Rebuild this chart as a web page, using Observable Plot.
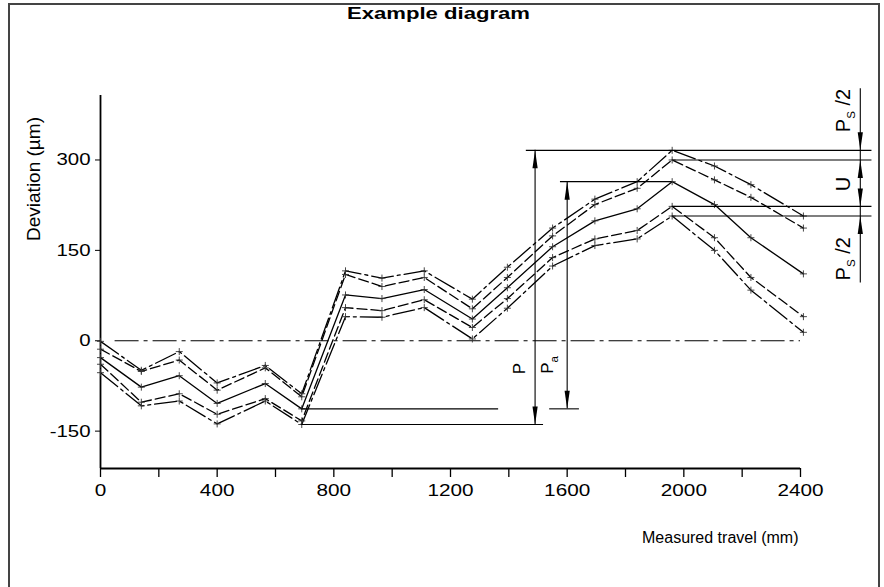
<!DOCTYPE html>
<html><head><meta charset="utf-8">
<script src="https://cdn.jsdelivr.net/npm/d3@7"></script>
<script src="https://cdn.jsdelivr.net/npm/@observablehq/plot@0.6"></script>
<style>
body{margin:0;background:#fff;}
#wrap{position:relative;width:884px;height:587px;overflow:hidden;background:#fff;}
#frame{position:absolute;left:8px;top:3px;width:868px;height:700px;border:2px solid #444;pointer-events:none;}
</style></head><body><div id="wrap"><div id="chart"></div><div id="frame"></div></div>
<script>
// ---- data ----
const travel = [0,140,270,400,565,690,840,965,1110,1275,1395,1550,1695,1840,1960,2105,2230,2410];
const upperDashDot = [-1,-49,-18,-70,-41,-88,116,104,116,69,122,187,235,264,316,290,259,207];
const upperDashed  = [-14,-51,-32,-82,-45,-93,110,90,105,53,105,174,226,253,300,267,238,187];
const meanLine     = [-28,-77,-58,-104,-71,-113,76,70,85,36,88,156,199,219,264,226,171,111];
const lowerDashed  = [-39,-102,-88,-122,-96,-133,55,50,68,22,70,138,169,183,223,171,105,40];
const lowerDashDot = [-53,-108,-100,-138,-100,-139,40,39,55,3,54,124,158,169,207,150,84,14];

const yTicks = [-150, 0, 150, 300];
const xTicks = d3.range(0, 2401, 200);
const xTickLabels = [0, 400, 800, 1200, 1600, 2000, 2400];
const titleText = "Example diagram";
const xLabel = "Measured travel (mm)";
const yLabel = "Deviation (µm)";

// annotation positions (mm)
const zeroSpan = [50, 2400];
const pArrowX = 1490, paArrowX = 1600, dimX = 2605, refEnd = 2645;
const pTopStart = 1460, paTopStart = 1577, paBotEnd = 1365, paBotStub = [1540, 1642], pBotEnd = 1519;
const dimSpan = [96, 418];
const labelP = [1437, -46], labelPa = [1534, -40];
const rightLabelX = 2547;
const rightLabels = [{t: "P_S /2", y: 382}, {t: "U", y: 260}, {t: "P_S /2", y: 136}];

// ---- derived ----
const rows = a => travel.map((x, i) => ({x, y: a[i]}));
const P_top = d3.max(upperDashDot), P_bot = d3.min(lowerDashDot);
const Pa_top = d3.max(meanLine), Pa_bot = d3.min(meanLine);
const U_top = d3.max(upperDashed), U_bot = d3.max(lowerDashed), S_bot = d3.max(lowerDashDot);
const peakX = travel[meanLine.indexOf(Pa_top)];
const minX = travel[meanLine.indexOf(Pa_bot)];

const series = [
  {a: upperDashDot, dash: "22,4,3,4"},
  {a: upperDashed, dash: "10,4"},
  {a: meanLine, dash: null},
  {a: lowerDashed, dash: "10,4"},
  {a: lowerDashDot, dash: "22,4,3,4"}
];

const arrowHead = {draw(ctx) { ctx.moveTo(0, 0); ctx.lineTo(2.6, 18); ctx.lineTo(-2.6, 18); ctx.closePath(); }};
const upArrows = [{x: pArrowX, y: P_top}, {x: paArrowX, y: Pa_top}, {x: dimX, y: U_top}, {x: dimX, y: S_bot}];
const downArrows = [{x: pArrowX, y: P_bot}, {x: paArrowX, y: Pa_bot}, {x: dimX, y: P_top}, {x: dimX, y: U_bot}];

const hRules = [
  {y: P_top, x1: pTopStart, x2: refEnd},
  {y: U_top, x1: peakX, x2: refEnd},
  {y: Pa_top, x1: paTopStart, x2: peakX},
  {y: U_bot, x1: peakX, x2: refEnd},
  {y: S_bot, x1: peakX, x2: refEnd},
  {y: Pa_bot, x1: minX, x2: paBotEnd},
  {y: Pa_bot, x1: paBotStub[0], x2: paBotStub[1]},
  {y: P_bot, x1: minX, x2: pBotEnd}
];
const vRules = [
  {x: pArrowX, y1: P_bot, y2: P_top},
  {x: paArrowX, y1: Pa_bot, y2: Pa_top},
  {x: dimX, y1: dimSpan[0], y2: dimSpan[1]}
];

const font = "'Liberation Sans', Arial, Helvetica, sans-serif";

const chart = Plot.plot({
  width: 884, height: 587,
  marginTop: 95, marginBottom: 119, marginLeft: 100, marginRight: 84,
  x: {domain: [0, 2400]},
  y: {domain: [-212, 407]},
  style: {fontFamily: font, fontSize: "16px", color: "black", background: "white", overflow: "visible"},
  marks: [
    Plot.axisY({ticks: yTicks, tickSize: 5, tickPadding: 5, fontSize: 17, label: null, tickFormat: d => String(d)}),
    Plot.axisX({ticks: xTicks, tickSize: 9, tickPadding: 6, fontSize: 17, strokeWidth: 1.3, label: null,
      tickFormat: d => xTickLabels.includes(d) ? String(d) : ""}),
    Plot.ruleX([0], {strokeWidth: 1.8}),
    Plot.ruleY([-212], {strokeWidth: 1.8}),
    Plot.ruleY([0], {x1: zeroSpan[0], x2: zeroSpan[1], strokeWidth: 1.2, strokeDasharray: "24,5,4,5"}),
    ...series.map(s => Plot.line(rows(s.a), {x: "x", y: "y", stroke: "black", strokeWidth: 1.3, strokeDasharray: s.dash ?? undefined})),
    ...series.map(s => Plot.dot(rows(s.a), {x: "x", y: "y", symbol: "plus", r: 2.4, stroke: "#333", strokeWidth: 0.9})),
    Plot.ruleY(hRules, {y: "y", x1: "x1", x2: "x2", strokeWidth: 1.1}),
    Plot.ruleX(vRules, {x: "x", y1: "y1", y2: "y2", strokeWidth: 1.1}),
    Plot.dot(upArrows, {x: "x", y: "y", symbol: arrowHead, fill: "black", stroke: "none"}),
    Plot.dot(downArrows, {x: "x", y: "y", symbol: arrowHead, rotate: 180, fill: "black", stroke: "none"}),
    Plot.text([{x: labelP[0], y: labelP[1], t: "P"}, {x: labelPa[0], y: labelPa[1], t: "P_a"}], {x: "x", y: "y", text: "t", rotate: -90, fontSize: 17}),
    Plot.text(rightLabels, {x: () => rightLabelX, y: "y", text: "t", rotate: -90, fontSize: 20}),
    Plot.text([titleText], {frameAnchor: "top", textAnchor: "middle", lineAnchor: "middle", dx: -12, dy: -82, fontWeight: "bold", fontSize: 17}),
    Plot.text([xLabel], {frameAnchor: "bottom-right", textAnchor: "end", lineAnchor: "middle", dx: -2, dy: 69, fontSize: 16}),
    Plot.text([yLabel], {frameAnchor: "left", textAnchor: "middle", rotate: -90, dx: -67, dy: -103, fontSize: 19})
  ]
});

// subscripts
d3.select(chart).selectAll("text").each(function() {
  const t = this.textContent;
  const m = t.match(/^(.*?)_(\w)(.*)$/);
  if (!m) return;
  const fs = parseFloat(getComputedStyle(this).fontSize) || 16;
  const sel = d3.select(this);
  sel.text(null);
  sel.append("tspan").text(m[1]);
  sel.append("tspan").attr("dy", fs * 0.3).attr("font-size", fs * 0.72).text(m[2]);
  if (m[3]) sel.append("tspan").attr("dy", -fs * 0.3).text(m[3]);
});

document.getElementById("chart").append(chart);

// horizontal widening of the lettering to match the reference's wide type
function widenEl(el, f) {
  const L = el.getComputedTextLength();
  if (L > 0) { el.setAttribute("textLength", L * f); el.setAttribute("lengthAdjust", "spacingAndGlyphs"); }
}
chart.querySelectorAll('g[aria-label="x-axis tick label"] text').forEach(el => widenEl(el, 1.22));
chart.querySelectorAll('g[aria-label="y-axis tick label"] text').forEach(el => widenEl(el, 1.2));
chart.querySelectorAll('text').forEach(el => { if (el.textContent === titleText) widenEl(el, 1.3); });
</script></body></html>
